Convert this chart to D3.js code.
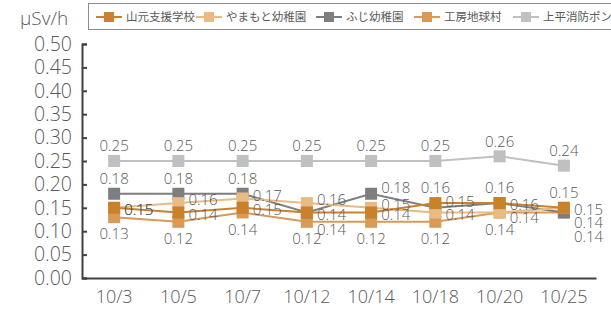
<!DOCTYPE html>
<html>
<head>
<meta charset="utf-8">
<script src="https://cdn.jsdelivr.net/npm/d3@7"></script>
<style>
  html, body { margin: 0; padding: 0; background: #fff; }
  svg { display: block; font-family: "Open Sans", "Noto Sans CJK JP", sans-serif; }
</style>
</head>
<body>
<div id="chart"></div>
<script>
const dates = ['10/3', '10/5', '10/7', '10/12', '10/14', '10/18', '10/20', '10/25'];
const seriesNames = ['山元支援学校', 'やまもと幼稚園', 'ふじ幼稚園', '工房地球村', '上平消防ポンプ置場'];
const yamamotoShien = [0.15, 0.14, 0.15, 0.14, 0.14, 0.16, 0.16, 0.15];
const yamamotoYochien = [0.15, 0.16, 0.17, 0.16, 0.15, 0.14, 0.14, 0.15];
const fujiYochien = [0.18, 0.18, 0.18, 0.14, 0.18, 0.15, 0.16, 0.14];
const kobo = [0.13, 0.12, 0.14, 0.12, 0.12, 0.12, 0.14, 0.14];
const kamidaira = [0.25, 0.25, 0.25, 0.25, 0.25, 0.25, 0.26, 0.24];
const yTicks = [0, 0.05, 0.1, 0.15, 0.2, 0.25, 0.3, 0.35, 0.4, 0.45, 0.5];

const colors = ['#c9812b', '#e8ba84', '#7d7e80', '#d99a58', '#bfc0c2'];
// where each data label sits relative to its marker
const labelPlace = [
  ['r', 'r', 'r', 'r', 'r', 't', 't', 't'],
  ['r', 'ru', 'ru', 'ru', 'ru', 'r', 'rd', 'r'],
  ['t', 't', 't', 'rb', 'rt', 'rt', 'r', 'rm'],
  ['b', 'b', 'b', 'b', 'b', 'b', 'b', 'rbb'],
  ['t', 't', 't', 't', 't', 't', 't', 't']
];
const placeOffsets = {
  t: [0, -15, 'middle'], b: [0, 17, 'middle'], r: [10, 2, 'start'], ru: [10, -3, 'start'],
  rd: [10, 5, 'start'], rt: [10, -6, 'start'], rb: [10, 17, 'start'], rm: [10, 10, 'start'],
  rbb: [10, 24, 'start']
};

const series = [yamamotoShien, yamamotoYochien, fujiYochien, kobo, kamidaira].map((values, i) => ({
  name: seriesNames[i], color: colors[i], index: i,
  points: values.map((v, j) => ({date: dates[j], value: v, place: labelPlace[i][j]}))
}));

const width = 611, height = 311;
const svg = d3.select('#chart').append('svg').attr('width', width).attr('height', height);

const x = d3.scaleBand().domain(dates).range([82, 596]);
const y = d3.scaleLinear().domain([0, 0.5]).range([278, 44]);
const fmt = d3.format('.2f');
const textColor = '#595959';

// unit label
svg.append('text').attr('x', 20).attr('y', 25)
  .attr('font-size', 19).attr('fill', textColor).attr('font-weight', 300).text('μSv/h');

// y axis
const yAxis = svg.append('g').attr('transform', 'translate(82,0)')
  .call(d3.axisLeft(y).tickValues(yTicks).tickFormat(fmt).tickSize(-5).tickPadding(10));
yAxis.select('.domain').attr('stroke', '#404040').attr('stroke-width', 2);
yAxis.selectAll('.tick line').attr('stroke', '#404040').attr('stroke-width', 2);
yAxis.selectAll('.tick text').attr('font-size', 19.5).attr('fill', textColor)
  .attr('font-family', '"Open Sans", sans-serif').attr('font-weight', 300);

// x axis
const xAxis = svg.append('g').attr('transform', 'translate(0,278)')
  .call(d3.axisBottom(x).tickSize(0).tickPadding(12));
xAxis.select('.domain').attr('stroke', '#404040').attr('stroke-width', 2);
xAxis.selectAll('.tick text').attr('font-size', 18).attr('fill', textColor)
  .attr('font-family', '"Open Sans", sans-serif').attr('font-weight', 300);

const cx = d => x(d.date) + x.bandwidth() / 2;
const line = d3.line().x(cx).y(d => y(d.value));
const ms = 12;

// later series sit underneath, so draw them first
const drawOrder = series.slice().reverse();
const groups = svg.append('g').selectAll('g').data(drawOrder).join('g');

groups.append('path')
  .attr('fill', 'none')
  .attr('stroke', d => d.color)
  .attr('stroke-width', 2)
  .attr('d', d => line(d.points));

groups.selectAll('rect')
  .data(d => d.points.map(p => Object.assign({color: d.color}, p)))
  .join('rect')
  .attr('x', d => cx(d) - ms / 2)
  .attr('y', d => y(d.value) - ms / 2)
  .attr('width', ms).attr('height', ms)
  .attr('fill', d => d.color);

// data labels on top of everything
svg.append('g').selectAll('g').data(drawOrder).join('g')
  .selectAll('text')
  .data(d => d.points)
  .join('text')
  .attr('x', d => cx(d) + placeOffsets[d.place][0])
  .attr('y', d => y(d.value) + placeOffsets[d.place][1])
  .attr('dy', '0.35em')
  .attr('text-anchor', d => placeOffsets[d.place][2])
  .attr('font-size', 15)
  .attr('font-weight', 300)
  .attr('fill', textColor)
  .text(d => fmt(d.value));

// legend
const legend = svg.append('g');
legend.append('rect').attr('x', 88.5).attr('y', 3.5).attr('width', 540).attr('height', 26)
  .attr('fill', '#fff').attr('stroke', '#8c8c8c');
const legendX = [96, 196, 316, 414, 513];
const item = legend.selectAll('g.item').data(series).join('g')
  .attr('class', 'item')
  .attr('transform', (d, i) => `translate(${legendX[i]},17)`);
item.append('line').attr('x1', 0).attr('x2', 26).attr('stroke', d => d.color).attr('stroke-width', 2);
item.append('rect').attr('x', 8).attr('y', -5).attr('width', 10).attr('height', 10).attr('fill', d => d.color);
item.append('text').attr('x', 30).attr('dy', '0.36em')
  .attr('font-family', '"Noto Sans CJK JP", sans-serif')
  .attr('font-size', 11.5).attr('fill', textColor)
  .text(d => d.name);
</script>
</body>
</html>
